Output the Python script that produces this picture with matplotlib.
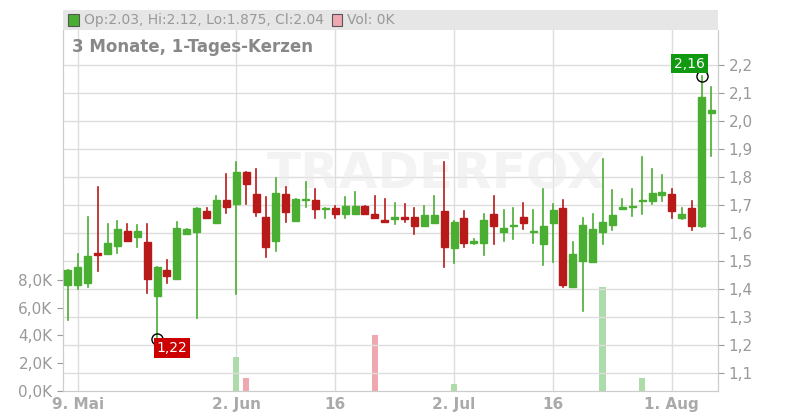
import matplotlib
matplotlib.use('Agg')
import matplotlib.pyplot as plt
from matplotlib.patches import Rectangle

# candle data, one per trading day (index 0 = 8 May)
opens = [1.414, 1.414, 1.423, 1.527, 1.525, 1.555, 1.607, 1.587, 1.568, 1.376,
         1.468, 1.437, 1.598, 1.605, 1.679, 1.637, 1.718, 1.705, 1.818, 1.740,
         1.657, 1.573, 1.740, 1.644, 1.717, 1.718, 1.686, 1.688, 1.667, 1.667,
         1.696, 1.668, 1.646, 1.651, 1.657, 1.658, 1.626, 1.637, 1.679, 1.548,
         1.654, 1.565, 1.566, 1.668, 1.605, 1.626, 1.657, 1.603, 1.562, 1.637,
         1.689, 1.408, 1.501, 1.498, 1.605, 1.630, 1.687, 1.694, 1.715, 1.715,
         1.737, 1.739, 1.655, 1.689, 1.626, 2.030]
closes = [1.468, 1.480, 1.518, 1.521, 1.563, 1.614, 1.573, 1.607, 1.437, 1.478,
          1.448, 1.618, 1.614, 1.689, 1.655, 1.718, 1.694, 1.818, 1.776, 1.676,
          1.551, 1.743, 1.676, 1.721, 1.719, 1.687, 1.688, 1.667, 1.696, 1.696,
          1.667, 1.655, 1.640, 1.657, 1.651, 1.626, 1.664, 1.664, 1.551, 1.639,
          1.566, 1.570, 1.646, 1.626, 1.618, 1.630, 1.637, 1.607, 1.625, 1.682,
          1.415, 1.525, 1.629, 1.614, 1.639, 1.664, 1.694, 1.696, 1.718, 1.743,
          1.746, 1.680, 1.668, 1.626, 2.086, 2.040]
highs = [1.468, 1.525, 1.658, 1.765, 1.632, 1.643, 1.632, 1.629, 1.632, 1.478,
         1.504, 1.639, 1.614, 1.689, 1.689, 1.732, 1.810, 1.854, 1.818, 1.829,
         1.729, 1.796, 1.765, 1.721, 1.782, 1.756, 1.688, 1.696, 1.729, 1.745,
         1.696, 1.732, 1.721, 1.706, 1.704, 1.691, 1.698, 1.733, 1.854, 1.643,
         1.679, 1.578, 1.668, 1.732, 1.682, 1.689, 1.707, 1.682, 1.758, 1.704,
         1.718, 1.568, 1.654, 1.668, 1.864, 1.754, 1.721, 1.758, 1.871, 1.829,
         1.807, 1.757, 1.689, 1.714, 2.160, 2.120]
lows = [1.289, 1.399, 1.408, 1.465, 1.525, 1.530, 1.573, 1.551, 1.387, 1.220,
        1.423, 1.437, 1.598, 1.298, 1.655, 1.637, 1.670, 1.383, 1.705, 1.661,
        1.515, 1.537, 1.640, 1.644, 1.694, 1.655, 1.652, 1.652, 1.652, 1.667,
        1.667, 1.655, 1.640, 1.632, 1.640, 1.596, 1.626, 1.637, 1.480, 1.492,
        1.551, 1.561, 1.523, 1.562, 1.573, 1.580, 1.615, 1.565, 1.487, 1.498,
        1.408, 1.408, 1.323, 1.498, 1.562, 1.612, 1.687, 1.662, 1.668, 1.704,
        1.715, 1.655, 1.651, 1.612, 1.622, 1.875]
vol_days = [17, 18, 31, 39, 54, 58]
vol_values = [2450, 940, 4000, 500, 7500, 940]

tick_pos = [1, 17, 27, 39, 49, 61]
tick_labels = ['9. Mai', '2. Jun', '16', '2. Jul', '16', '1. Aug']
price_ticks = [1.1, 1.2, 1.3, 1.4, 1.5, 1.6, 1.7, 1.8, 1.9, 2.0, 2.1, 2.2]
vol_ticks = [0, 2000, 4000, 6000, 8000]

green = '#4aae32'
red = '#b81a1a'
grey = '#999999'

fig = plt.figure(figsize=(8, 4.2), dpi=100)
vax = fig.add_axes([63/800, 1 - 391/420, 655/800, 361/420])
ax = vax.twinx()

# volume
for d, v in zip(vol_days, vol_values):
    c = '#acdcaa' if closes[d] >= opens[d] else '#f0a8b0'
    vax.bar(d, v, width=0.65, color=c, zorder=1)
vax.set_ylim(0, 26018)
vax.set_yticks(vol_ticks)
vax.set_yticklabels([('%.1fK' % (v / 1000)).replace('.', ',') for v in vol_ticks])
vax.set_xlim(-0.5, 65.66)
vax.set_xticks(tick_pos)
vax.set_xticklabels(tick_labels)
vax.tick_params(axis='y', colors=grey, labelsize=11, length=4, direction='out')
vax.tick_params(axis='x', colors=grey, labelsize=11, length=0, pad=4)
for lab in vax.get_xticklabels():
    lab.set_fontweight('bold')
    lab.set_color('#aaaaaa')
vax.xaxis.grid(True, color='#dddddd', lw=1)

# candles
ax.set_ylim(1.0357, 2.325)
ax.set_yticks(price_ticks)
ax.set_yticklabels([('%.1f' % p).replace('.', ',') for p in price_ticks])
ax.tick_params(axis='y', colors=grey, labelsize=11, length=4)
ax.yaxis.grid(True, color='#dddddd', lw=1)
ax.set_axisbelow(True)
vax.set_axisbelow(True)
for i in range(len(opens)):
    o, c, h, l = opens[i], closes[i], highs[i], lows[i]
    col = green if c >= o else red
    ax.plot([i, i], [l, h], color=col, lw=1.2, zorder=3)
    bh = max(abs(c - o), 0.004)
    ax.add_patch(Rectangle((i - 0.35, min(o, c)), 0.7, bh, color=col, zorder=4))

for a in (ax, vax):
    a.spines['top'].set_visible(False)
    for s in ('left', 'right', 'bottom'):
        a.spines[s].set_color('#cccccc')

# watermark
ax.text(0.57, 0.6, 'TRADERFOX', transform=ax.transAxes, fontsize=36, fontweight='bold',
        color='#ececec', alpha=0.6, ha='center', va='center', zorder=2)

# min / max markers
ax.plot(9, 1.22, 'o', mfc='none', mec='black', ms=8, zorder=6)
ax.text(10.5, 1.19, '1,22', color='white', fontsize=10, ha='center', va='center',
        bbox=dict(boxstyle='square,pad=0.2', fc='#cc0000', ec='none'), zorder=6)
ax.plot(64, 2.16, 'o', mfc='none', mec='black', ms=8, zorder=6)
ax.text(62.8, 2.205, '2,16', color='white', fontsize=10, ha='center', va='center',
        bbox=dict(boxstyle='square,pad=0.2', fc='#119911', ec='none'), zorder=6)

# header strip
hax = fig.add_axes([63/800, 1 - 30/420, 655/800, 20/420])
hax.set_facecolor('#e6e6e6')
hax.set_xticks([])
hax.set_yticks([])
for s in hax.spines.values():
    s.set_visible(False)
hax.add_patch(Rectangle((0.008, 0.22), 0.016, 0.56, transform=hax.transAxes,
                        fc=green, ec='#555555', lw=0.8))
hax.text(0.032, 0.5, 'Op:2.03, Hi:2.12, Lo:1.875, Cl:2.04', transform=hax.transAxes,
         va='center', fontsize=10, color=grey)
hax.add_patch(Rectangle((0.41, 0.22), 0.016, 0.56, transform=hax.transAxes,
                        fc='#f0a8b0', ec='#555555', lw=0.8))
hax.text(0.434, 0.5, 'Vol: 0K', transform=hax.transAxes, va='center', fontsize=10, color=grey)

fig.text(72/800, 1 - 47/420, '3 Monate, 1-Tages-Kerzen', fontsize=12, fontweight='bold',
         color='#888888', va='center')

fig.savefig('out.png', dpi=100)
